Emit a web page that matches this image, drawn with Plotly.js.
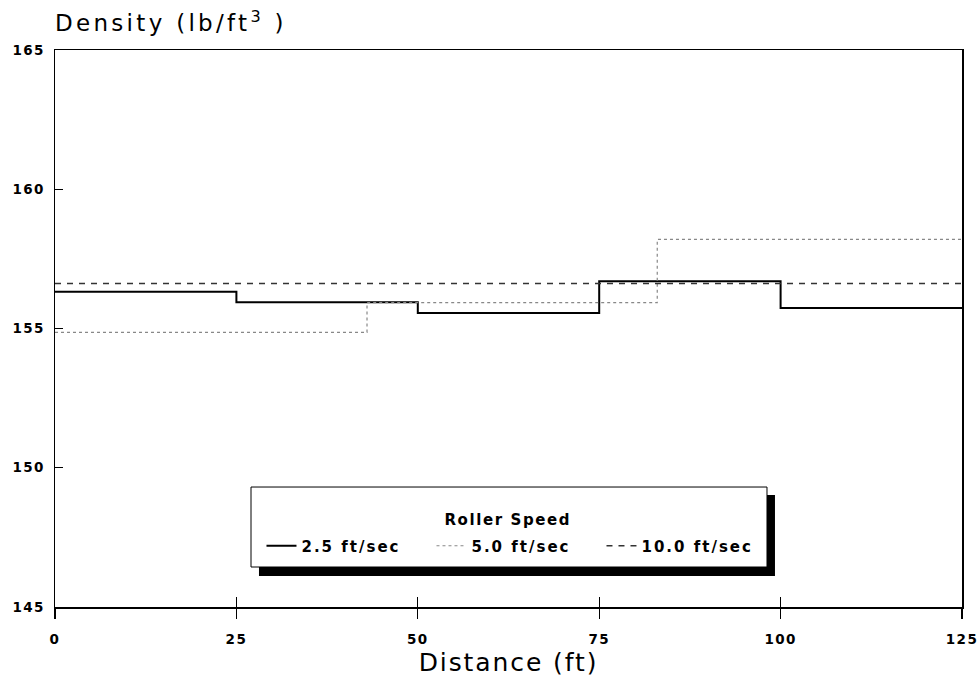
<!DOCTYPE html>
<html>
<head>
<meta charset="utf-8">
<script src="https://cdn.plot.ly/plotly-3.0.1.min.js"></script>
<style>
html,body{margin:0;padding:0;background:#fff;}
#chart{width:980px;height:683px;}
#chart .xtick text, #chart .ytick text {letter-spacing: 1.4px;}
#chart .gtitle {letter-spacing: 3.3px;}
#chart .xtitle {letter-spacing: 1.9px;}
#chart .legendtext {letter-spacing: 2px;}
#chart .annotation-text {letter-spacing: 1.6px;}
</style>
</head>
<body>
<div id="chart"></div>
<script>
// Data
const legendTitle = "Roller Speed";
const seriesNames = ["2.5 ft/sec", "5.0 ft/sec", "10.0 ft/sec"];
const slowX = [0, 25, 50, 75, 100, 125];
const slowY = [156.32, 155.94, 155.56, 156.70, 155.74, 155.74];
const midX = [0, 43, 83, 125];
const midY = [154.86, 155.93, 158.20, 158.20];
const fastX = [0, 125];
const fastY = [156.62, 156.62];
const xTicks = [0, 25, 50, 75, 100, 125];
const xInnerTicks = [25, 50, 75, 100];
const yTicks = [145, 150, 155, 160, 165];

const tickFont = {family: "DejaVu Sans", size: 13.5, color: "#000", weight: "bold"};

const traces = [
  {x: slowX, y: slowY, name: seriesNames[0], mode: "lines", line: {shape: "hv", color: "#000", width: 2}},
  {x: midX, y: midY, name: seriesNames[1], mode: "lines", line: {shape: "hv", color: "#888", width: 1.2, dash: "dot"}},
  {x: fastX, y: fastY, name: seriesNames[2], mode: "lines", line: {shape: "hv", color: "#333", width: 1.5, dash: "6px,6px"}},
  // invisible carrier so the overlaid tick axis is drawn
  {x: [0, 125], y: [145, 145], xaxis: "x2", yaxis: "y", mode: "lines",
   line: {width: 1, color: "rgba(0,0,0,0)"}, showlegend: false, hoverinfo: "skip"}
];

const layout = {
  width: 980, height: 683,
  margin: {l: 55, r: 18, t: 50, b: 76},
  paper_bgcolor: "#fff", plot_bgcolor: "#fff",
  showlegend: true,
  title: {
    text: "Density (lb/ft<sup>3</sup> )",
    font: {family: "DejaVu Sans", size: 23, color: "#000"},
    x: 0, xref: "paper", xanchor: "left",
    y: 0.966, yref: "container", yanchor: "middle"
  },
  xaxis: {
    range: [0, 125], tickvals: xTicks, ticktext: xTicks.map(String),
    ticks: "outside", ticklen: 10, tickwidth: 1.2, tickcolor: "#000",
    showline: true, linecolor: "#000", linewidth: 1.5, mirror: true,
    showgrid: false, zeroline: false, tickfont: tickFont,
    ticklabelstandoff: 9,
    title: {text: "Distance (ft)", font: {family: "DejaVu Sans", size: 25, color: "#000"}, standoff: 8}
  },
  xaxis2: {
    range: [0, 125], overlaying: "x", anchor: "y", side: "bottom",
    tickvals: xInnerTicks, ticks: "inside", ticklen: 10, tickwidth: 1.2, tickcolor: "#000",
    showticklabels: false, showline: false, showgrid: false, zeroline: false
  },
  yaxis: {
    range: [145, 165], tickvals: yTicks, ticktext: yTicks.map(String),
    ticks: "inside", ticklen: 8, tickwidth: 1.2, tickcolor: "#000",
    showline: true, linecolor: "#000", linewidth: 1.5, mirror: true,
    showgrid: false, zeroline: false, tickfont: tickFont,
    ticklabelstandoff: 6
  },
  legend: {
    orientation: "h",
    x: 0.5088, xanchor: "center", xref: "paper",
    y: 0.1095, yanchor: "middle", yref: "paper",
    bgcolor: "rgba(0,0,0,0)", borderwidth: 0,
    font: {family: "DejaVu Sans", size: 15, color: "#000", weight: "bold"},
    itemwidth: 30, entrywidth: 125, entrywidthmode: "pixels"
  },
  annotations: [
    {text: legendTitle, xref: "paper", yref: "paper", x: 0.4994, y: 0.156,
     xanchor: "center", yanchor: "middle", showarrow: false,
     font: {family: "DejaVu Sans", size: 15, color: "#000", weight: "bold"}}
  ],
  shapes: [
    {type: "rect", xref: "paper", yref: "paper", x0: 0.2249, x1: 0.7938, y0: 0.0557, y1: 0.2011,
     fillcolor: "#000", line: {width: 0}, layer: "above"},
    {type: "rect", xref: "paper", yref: "paper", x0: 0.2161, x1: 0.785, y0: 0.0718, y1: 0.2154,
     fillcolor: "#fff", line: {color: "#000", width: 1}, layer: "above"}
  ]
};

Plotly.newPlot("chart", traces, layout, {displayModeBar: false, staticPlot: true});
</script>
</body>
</html>
